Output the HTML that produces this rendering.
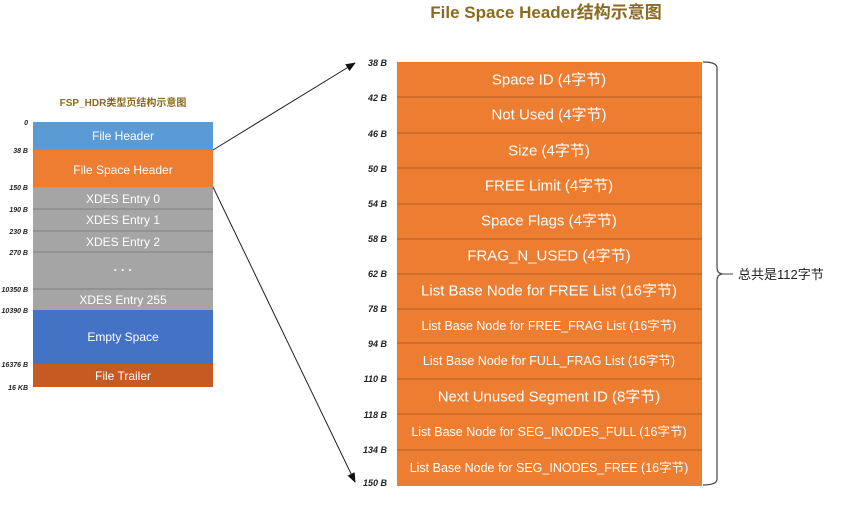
<!DOCTYPE html>
<html><head><meta charset="utf-8"><style>
html,body{margin:0;padding:0;background:#fff;}
svg{display:block;font-family:"Liberation Sans","Noto Sans CJK SC",sans-serif;}
.w{fill:#fff;text-anchor:middle;dominant-baseline:central;}
.lb{font-size:7px;font-style:italic;font-weight:bold;fill:#222;text-anchor:end;}
.rb{font-size:9px;font-style:italic;font-weight:bold;fill:#222;text-anchor:end;}
</style></head><body>
<svg width="853" height="512" viewBox="0 0 853 512" xmlns="http://www.w3.org/2000/svg">
<defs><marker id="ah" markerWidth="10" markerHeight="8" refX="9" refY="4" orient="auto" markerUnits="userSpaceOnUse"><path d="M0,0 L10,4 L0,8 z" fill="#111"/></marker></defs>
<text x="546" y="18" font-size="17" font-weight="bold" fill="#8a6a1e" text-anchor="middle">File Space Header结构示意图</text>
<text x="123" y="106" font-size="10" font-weight="bold" fill="#8a6a1e" text-anchor="middle">FSP_HDR类型页结构示意图</text>
<!-- left -->
<rect x="33" y="122" width="180" height="28" fill="#5b9bd5"/>
<rect x="33" y="150" width="180" height="37" fill="#ed7d31"/>
<rect x="33" y="187" width="180" height="123" fill="#a5a5a5"/>
<g stroke="#7f7f7f" stroke-width="1"><line x1="33" y1="209" x2="213" y2="209"/><line x1="33" y1="231" x2="213" y2="231"/><line x1="33" y1="252" x2="213" y2="252"/><line x1="33" y1="289" x2="213" y2="289"/></g>
<rect x="33" y="310" width="180" height="54" fill="#4472c4"/>
<rect x="33" y="364" width="180" height="23" fill="#c55a22"/>
<g font-size="12" class="w">
<text class="w" x="123" y="136">File Header</text>
<text class="w" x="123" y="170">File Space Header</text>
<text class="w" x="123" y="199">XDES Entry 0</text>
<text class="w" x="123" y="220">XDES Entry 1</text>
<text class="w" x="123" y="242">XDES Entry 2</text>
<text class="w" x="123" y="270" font-weight="bold">· · ·</text>
<text class="w" x="123" y="300">XDES Entry 255</text>
<text class="w" x="123" y="337">Empty Space</text>
<text class="w" x="123" y="376">File Trailer</text>
</g>
<g class="lb">
<text class="lb" x="28" y="125">0</text>
<text class="lb" x="28" y="153">38 B</text>
<text class="lb" x="28" y="190">150 B</text>
<text class="lb" x="28" y="212">190 B</text>
<text class="lb" x="28" y="234">230 B</text>
<text class="lb" x="28" y="255">270 B</text>
<text class="lb" x="28" y="292">10350 B</text>
<text class="lb" x="28" y="313">10390 B</text>
<text class="lb" x="28" y="367">16376 B</text>
<text class="lb" x="28" y="390">16 KB</text>
</g>
<line x1="213" y1="150" x2="355" y2="63" stroke="#222" stroke-width="1" marker-end="url(#ah)"/>
<line x1="213" y1="187" x2="355" y2="482" stroke="#222" stroke-width="1" marker-end="url(#ah)"/>
<!-- right -->
<rect x="397" y="62" width="305" height="424" fill="#ed7d31"/>
<g stroke="#b85a1e" stroke-width="1">
<line x1="397" y1="97" x2="702" y2="97"/><line x1="397" y1="133" x2="702" y2="133"/><line x1="397" y1="168" x2="702" y2="168"/><line x1="397" y1="204" x2="702" y2="204"/><line x1="397" y1="239" x2="702" y2="239"/><line x1="397" y1="274" x2="702" y2="274"/><line x1="397" y1="309" x2="702" y2="309"/><line x1="397" y1="343" x2="702" y2="343"/><line x1="397" y1="379" x2="702" y2="379"/><line x1="397" y1="414" x2="702" y2="414"/><line x1="397" y1="450" x2="702" y2="450"/>
</g>
<g>
<text class="w" font-size="15" x="549" y="80">Space ID (4字节)</text>
<text class="w" font-size="15" x="549" y="115">Not Used (4字节)</text>
<text class="w" font-size="15" x="549" y="151">Size (4字节)</text>
<text class="w" font-size="15" x="549" y="186">FREE Limit (4字节)</text>
<text class="w" font-size="15" x="549" y="221">Space Flags (4字节)</text>
<text class="w" font-size="15" x="549" y="256">FRAG_N_USED (4字节)</text>
<text class="w" font-size="15" x="549" y="291">List Base Node for FREE List (16字节)</text>
<text class="w" font-size="12.5" x="549" y="326">List Base Node for FREE_FRAG List (16字节)</text>
<text class="w" font-size="12.5" x="549" y="361">List Base Node for FULL_FRAG List (16字节)</text>
<text class="w" font-size="15" x="549" y="397">Next Unused Segment ID  (8字节)</text>
<text class="w" font-size="12.5" x="549" y="432">List Base Node for SEG_INODES_FULL (16字节)</text>
<text class="w" font-size="12.5" x="549" y="468">List Base Node for SEG_INODES_FREE (16字节)</text>
</g>
<g>
<text class="rb" x="387" y="66">38 B</text>
<text class="rb" x="387" y="101">42 B</text>
<text class="rb" x="387" y="137">46 B</text>
<text class="rb" x="387" y="172">50 B</text>
<text class="rb" x="387" y="207">54 B</text>
<text class="rb" x="387" y="242">58 B</text>
<text class="rb" x="387" y="277">62 B</text>
<text class="rb" x="387" y="312">78 B</text>
<text class="rb" x="387" y="347">94 B</text>
<text class="rb" x="387" y="382">110 B</text>
<text class="rb" x="387" y="418">118 B</text>
<text class="rb" x="387" y="453">134 B</text>
<text class="rb" x="387" y="486">150 B</text>
</g>
<path d="M703,62 Q717,62 717,68 L717,268 Q717,273 722,274 Q717,275 717,280 L717,479 Q717,485 703,485" fill="none" stroke="#444" stroke-width="1.2"/>
<line x1="722" y1="274" x2="733" y2="274" stroke="#444" stroke-width="1"/>
<text x="738" y="279" font-size="13" fill="#222">总共是112字节</text>
</svg>
</body></html>
